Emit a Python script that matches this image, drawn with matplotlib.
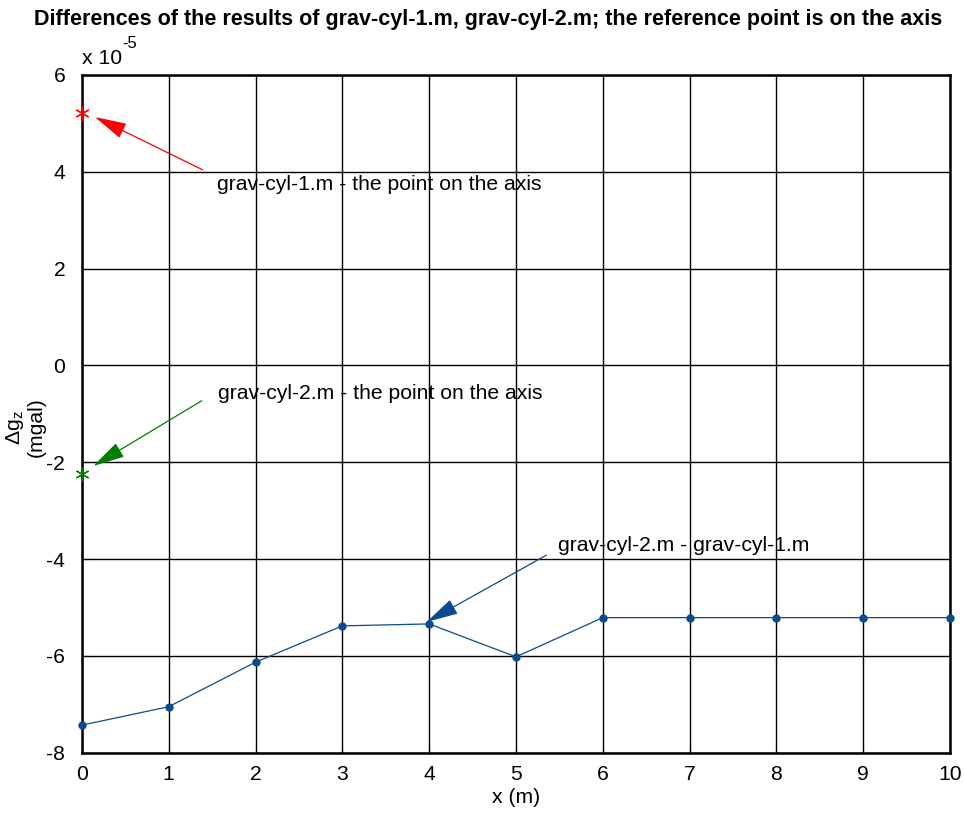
import matplotlib.pyplot as plt

plt.rcParams['font.family'] = ['Liberation Sans', 'DejaVu Sans']
plt.rcParams['mathtext.default'] = 'regular'
plt.rcParams['axes.unicode_minus'] = False

# data (values in units of 1e-5 mgal)
x = [0, 1, 2, 3, 4, 5, 6, 7, 8, 9, 10]
diff = [-7.43, -7.05, -6.13, -5.38, -5.34, -6.02, -5.21, -5.21, -5.21, -5.21, -5.21]
axis_pt1 = 5.21    # grav-cyl-1.m, point on the axis
axis_pt2 = -2.25   # grav-cyl-2.m, point on the axis

title = 'Differences of the results of grav-cyl-1.m, grav-cyl-2.m; the reference point is on the axis'
xticks = list(range(0, 11))
yticks = [-8, -6, -4, -2, 0, 2, 4, 6]

blue = '#0b4a8c'
red = '#ff0000'
green = '#008000'
fs = 15.2

fig = plt.figure(figsize=(9.64, 8.14), dpi=100)
ax = fig.add_axes([0.085, 0.0753, 0.9005, 0.8327])

ax.plot(x, diff, '-', color=blue, lw=0.9, marker='o', ms=5, mfc=blue, mec=blue, clip_on=False, zorder=3)
ax.plot([0], [axis_pt1], ls='none', marker=(6, 2, 0), ms=10, mec=red, mew=0.9, clip_on=False, zorder=3)
ax.plot([0], [axis_pt2], ls='none', marker=(6, 2, 0), ms=10, mec=green, mew=0.9, clip_on=False, zorder=3)

# annotations
def arrow(head, tail, col):
    ax.annotate('', xy=head, xytext=tail,
                arrowprops=dict(arrowstyle='-|>,head_length=1.0,head_width=0.25', color=col,
                                lw=0.9, shrinkA=0, shrinkB=0, mutation_scale=20))

arrow((0.15, 5.13), (1.39, 4.04), red)
ax.text(1.56, 3.73, 'grav-cyl-1.m - the point on the axis', fontsize=fs, va='center', ha='left')

arrow((0.13, -2.08), (1.38, -0.73), green)
ax.text(1.57, -0.59, 'grav-cyl-2.m - the point on the axis', fontsize=fs, va='center', ha='left')

arrow((3.97, -5.3), (5.35, -3.92), blue)
ax.text(5.48, -3.71, 'grav-cyl-2.m - grav-cyl-1.m', fontsize=fs, va='center', ha='left')

ax.set_xlim(0, 10)
ax.set_ylim(-8, 6)
ax.set_xticks(xticks)
ax.set_yticks(yticks)
ax.tick_params(direction='in', labelsize=fs, length=4)
ax.tick_params(axis='y', pad=12)
ax.tick_params(axis='x', pad=9)
ax.grid(True, color='black', lw=1.0, ls='-')
ax.set_axisbelow(True)
for s in ax.spines.values():
    s.set_linewidth(1.8)

ax.set_xlabel('x (m)', fontsize=fs, labelpad=3)
ax.set_ylabel('$\\Delta g_z$\n(mgal)', fontsize=fs, linespacing=1.0)
ax.yaxis.set_label_coords(-0.042, 0.48)
fig.text(0.506, 1 - 19 / 814, title, fontsize=15.5, fontweight='bold', ha='center', va='center')
ax.text(0.0, 1.01, 'x 10', transform=ax.transAxes, fontsize=fs, ha='left', va='bottom')
ax.text(0.047, 1.035, '-5', transform=ax.transAxes, fontsize=12, ha='left', va='bottom')

fig.savefig('out.png', dpi=100)
